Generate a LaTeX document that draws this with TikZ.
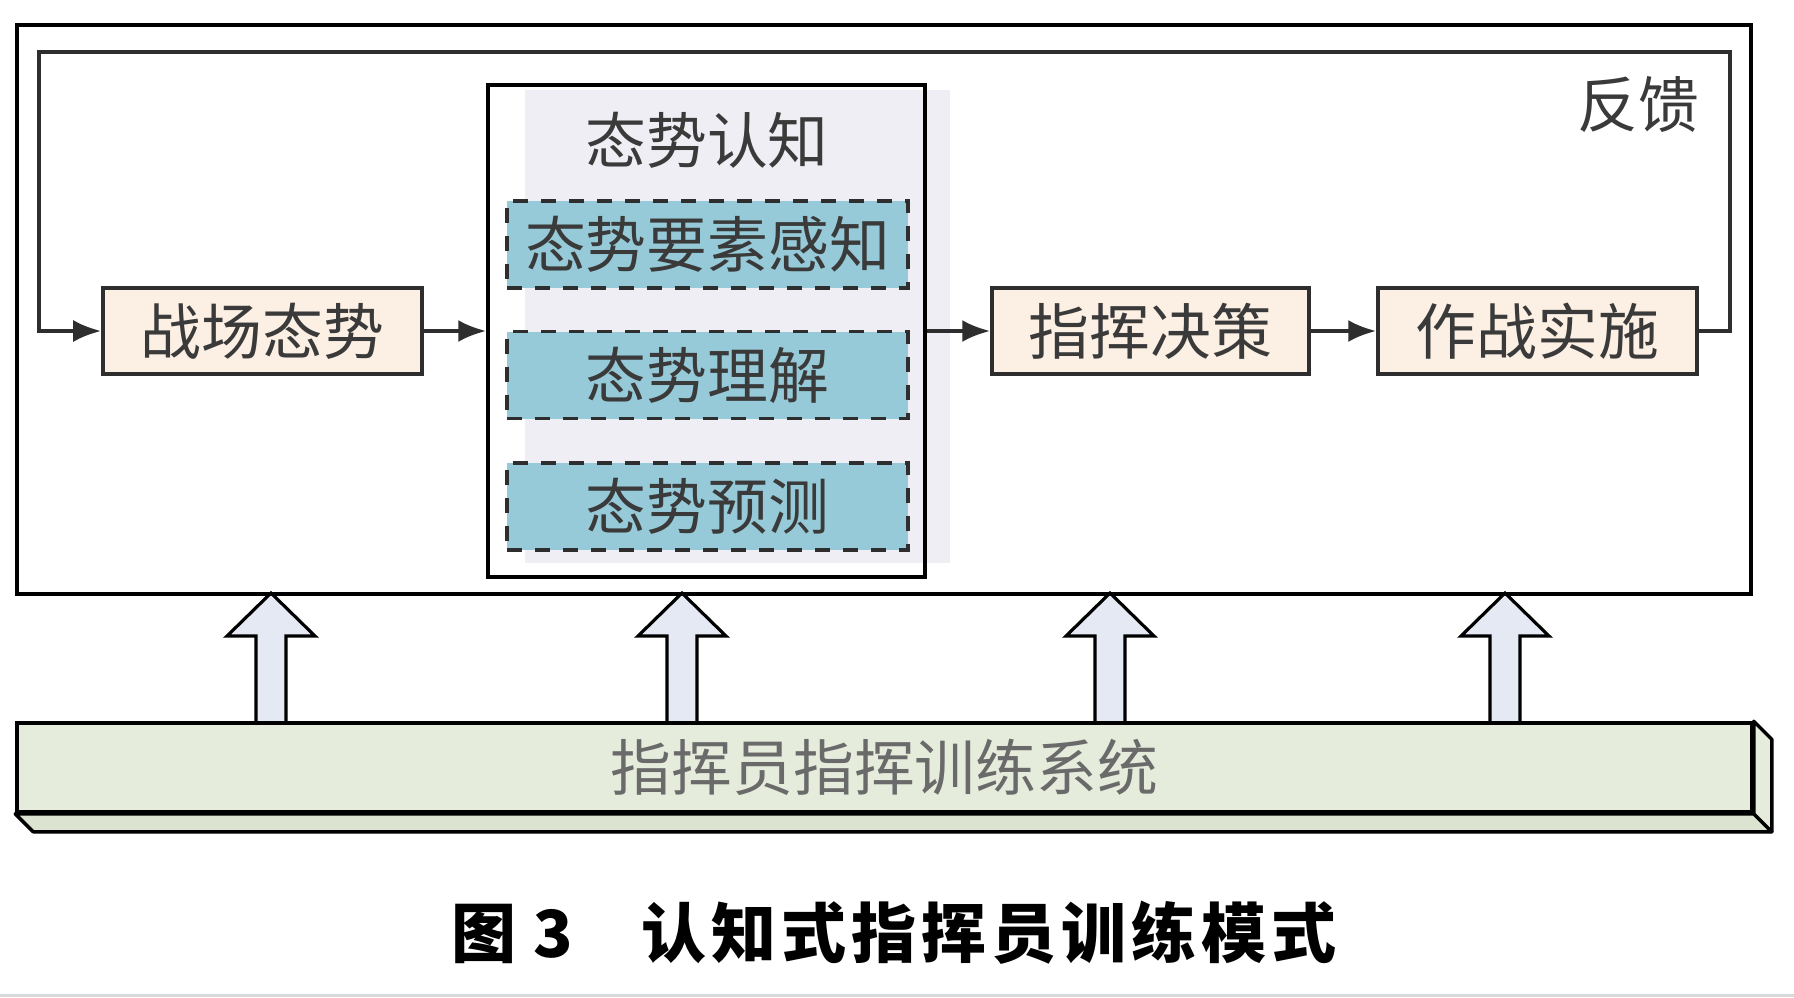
\documentclass[tikz,border=0pt]{standalone}
\usepackage{fontspec}
\newfontfamily\cjk{Noto Sans CJK SC}
\usetikzlibrary{arrows.meta,calc}
\definecolor{beige}{HTML}{FCEFE3}
\definecolor{teal1}{HTML}{96CAD8}
\definecolor{lav}{HTML}{EFEEF4}
\definecolor{bargreen}{HTML}{E6ECDC}
\definecolor{bargreend}{HTML}{DCE3D0}
\definecolor{arrfill}{HTML}{E4E9F4}
\definecolor{txtdark}{HTML}{3A3A3A}
\definecolor{txtgray}{HTML}{6A6A6A}
\definecolor{linedark}{HTML}{2E2E2E}
\begin{document}
\begin{tikzpicture}[x=0.1mm,y=-0.1mm,
  lbl/.style={font=\cjk\fontsize{17.3}{20}\selectfont, text=txtdark, inner sep=0pt},
  pbox/.style={lbl, draw=linedark, line width=1pt, fill=beige, minimum height=8.6mm},
  dbox/.style={lbl, draw=linedark, line width=1.1pt, fill=teal1, dash pattern=on 1.5mm off 1.3mm, minimum width=40.1mm, minimum height=8.7mm},
  arr/.style={draw=linedark, line width=1.1pt, -{Latex[length=2.8mm,width=2.2mm]}},
  blockarr/.style={draw=black, line width=0.9pt, fill=arrfill, line join=miter},
  barline/.style={draw=black, line width=1pt, line join=round}]
\fill[white] (0,0) rectangle (1794,997);
\useasboundingbox (0,0) rectangle (1794,997);
\fill[black!15] (0,994) rectangle (1794,997);
% block arrows
\foreach \x in {271,682,1110,1505} {
  \draw[blockarr] (\x-15,723) -- (\x-15,636) -- (\x-44,636) -- (\x,593) -- (\x+44,636) -- (\x+15,636) -- (\x+15,723) -- cycle;
}
% outer frame
\node[draw=black, line width=1.1pt, minimum width=173.4mm, minimum height=56.9mm, inner sep=0pt] (outer) at (884,309.5) {};
% training system bar
\node[lbl, text=txtgray, draw=black, line width=1pt, fill=bargreen, minimum width=173.5mm, minimum height=8.9mm] (bar) at (884.5,767.5) {指挥员指挥训练系统};
\draw[barline, fill=bargreend] (bar.south west) -- ++(18,18) -- ($(bar.south east)+(18,18)$) -- (bar.south east) -- cycle;
\draw[barline, fill=bargreen] (bar.south east) -- ($(bar.south east)+(18,18)$) -- ($(bar.north east)+(18,18)$) -- (bar.north east) -- cycle;
% situation cognition group
\fill[lav] (525,90) rectangle (950,563);
\node[draw=black, line width=1pt, minimum width=43.7mm, minimum height=49.2mm, inner sep=0pt] (rz) at (706.5,331) {};
\node[lbl] (rzt) at (707,140) {态势认知};
\node[dbox] (d1) at (707.5,244.5) {态势要素感知};
\node[dbox] (d2) at (707.5,375) {态势理解};
\node[dbox] (d3) at (707.5,506.5) {态势预测};
% process boxes
\node[pbox, minimum width=31.9mm] (zc) at (262.5,331) {战场态势};
\node[pbox, minimum width=31.7mm] (jc) at (1150.5,331) {指挥决策};
\node[pbox, minimum width=31.9mm] (zs) at (1537.5,331) {作战实施};
\node[lbl] (fk) at (1638,105) {反馈};
% connectors
\draw[arr] (zc) -- (rz);
\draw[arr] (rz) -- (jc);
\draw[arr] (jc) -- (zs);
\coordinate (fbr) at (1730,52);
\coordinate (fbl) at (39,331);
\draw[arr] (zs.east) -| (fbr) -| (fbl) -- (zc.west);
% caption
\node[font=\cjk\bfseries\fontsize{18.5}{22}\selectfont, text=black, inner sep=0pt] (cap) at (894,933) {图\kern4.8pt 3\kern19.6pt 认\kern1.4pt 知\kern1.4pt 式\kern1.4pt 指\kern1.4pt 挥\kern1.4pt 员\kern1.4pt 训\kern1.4pt 练\kern1.4pt 模\kern1.4pt 式};
\end{tikzpicture}
\end{document}
